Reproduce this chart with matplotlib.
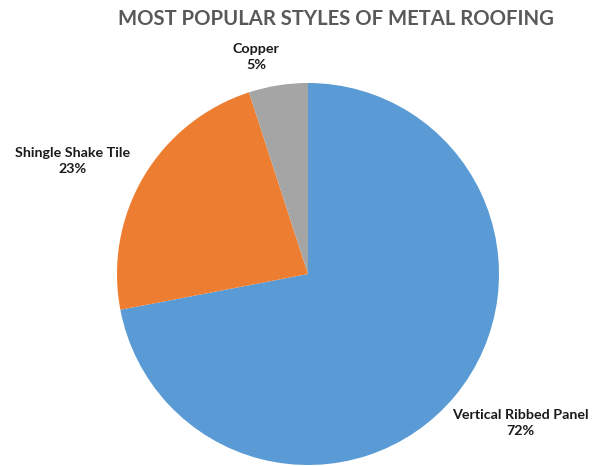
import matplotlib.pyplot as plt

labels = ["Vertical Ribbed Panel", "Shingle Shake Tile", "Copper"]
shares = [72, 23, 5]
colors = ["#5B9BD5", "#ED7D31", "#A5A5A5"]

# label anchor points in pixel space (from the top left), one per slice
label_pos = [(520, 423), (73, 161), (256, 57)]

W, H = 608, 466
fig = plt.figure(figsize=(W / 100, H / 100), dpi=100)
ax = fig.add_axes([0, 0, 1, 1])

ax.pie(shares, colors=colors, startangle=90, counterclock=False,
       center=(308, H - 274), radius=191, frame=True,
       wedgeprops=dict(linewidth=0))
ax.set_xlim(0, W)
ax.set_ylim(0, H)
ax.set_aspect("equal")
ax.axis("off")

for lab, val, (x, y) in zip(labels, shares, label_pos):
    ax.text(x, H - y, f"{lab}\n{val}%", ha="center", va="center",
            fontsize=10.3, fontweight="bold", family="Lato", color="#1a1a1a",
            linespacing=1.4)

ax.text(336, H - 19, "MOST POPULAR STYLES OF METAL ROOFING", ha="center",
        va="center", fontsize=14.6, fontweight="bold", family="Lato",
        color="#595959")

fig.savefig("out.png", dpi=100)
